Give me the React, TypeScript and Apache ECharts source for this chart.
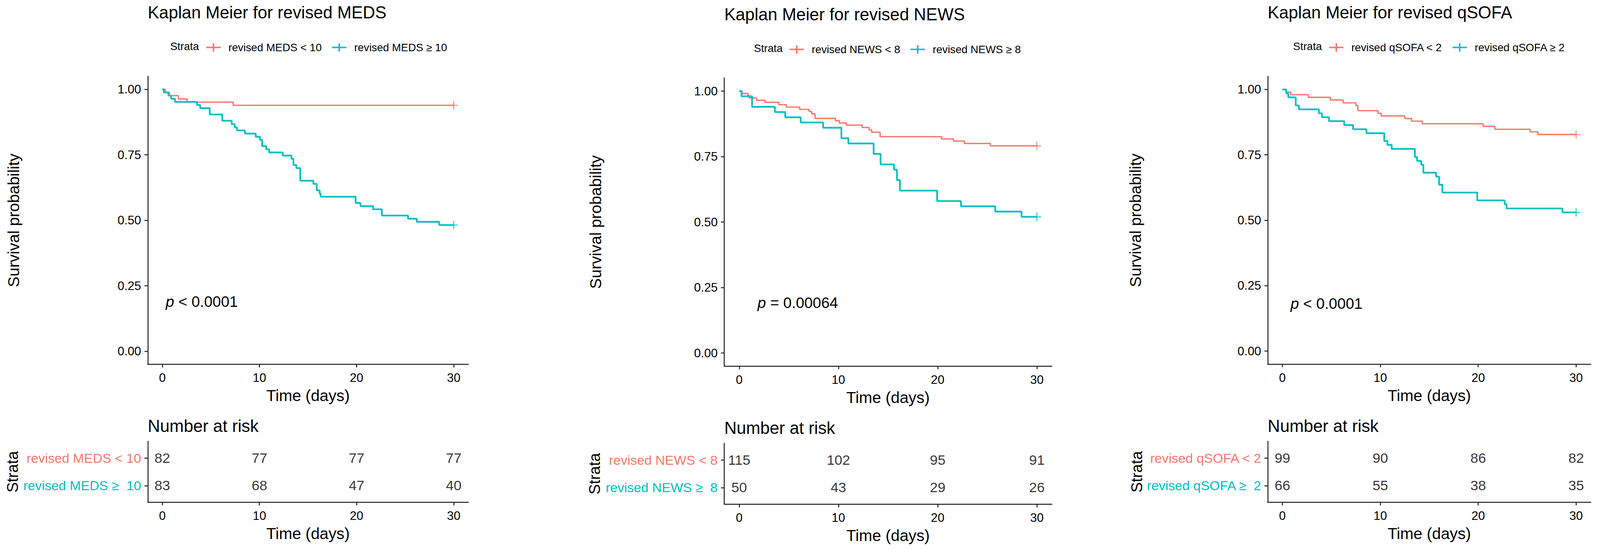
import React, { useEffect, useRef } from "react";
import * as echarts from "echarts";

const W = 4353;
const H = 1407;
const RED = "#F8766D";
const TEAL = "#00BFC4";
const INK = "#000000";
const AXIS = "#1a1a1a";
const FONT = "'Liberation Sans', Arial, Helvetica, sans-serif";

// ---------- data ----------
const TIME_TICKS = [0, 10, 20, 30];
const PROB_TICKS = [0, 0.25, 0.5, 0.75, 1];

const TITLES = ["Kaplan Meier for revised MEDS", "Kaplan Meier for revised NEWS", "Kaplan Meier for revised qSOFA"];
const LOW_NAMES = ["revised MEDS < 10", "revised NEWS < 8", "revised qSOFA < 2"];
const HIGH_NAMES = ["revised MEDS \u2265 10", "revised NEWS \u2265 8", "revised qSOFA \u2265 2"];
const LOW_ROW_LABELS = ["revised MEDS < 10", "revised NEWS < 8", "revised qSOFA < 2"];
const HIGH_ROW_LABELS = ["revised MEDS \u2265\u00a0 10", "revised NEWS \u2265\u00a0 8", "revised qSOFA \u2265\u00a0 2"];
const P_OPS = ["<", "=", "<"];
const P_VALUES = ["0.0001", "0.00064", "0.0001"];

const MEDS_LOW_T = [0, 0.3, 0.6, 1.65, 2.55, 7.3, 30];
const MEDS_LOW_S = [1, 0.988, 0.976, 0.963, 0.951, 0.939, 0.939];
const MEDS_HIGH_T = [0, 0.15, 0.7, 0.9, 1.3, 3.58, 3.9, 4.88, 6.17, 7.14, 7.46, 7.68, 8.5, 9.62, 10.05, 10.27, 10.7, 11.0, 12.4, 13.3, 13.5, 13.8, 14.2, 15.55, 15.9, 16.2, 16.3, 19.9, 20.4, 21.7, 22.6, 25.3, 26.2, 28.5, 30];
const MEDS_HIGH_S = [1, 0.988, 0.976, 0.964, 0.952, 0.94, 0.928, 0.904, 0.88, 0.867, 0.855, 0.843, 0.831, 0.819, 0.807, 0.783, 0.771, 0.759, 0.747, 0.735, 0.711, 0.699, 0.651, 0.639, 0.614, 0.602, 0.59, 0.566, 0.554, 0.542, 0.518, 0.506, 0.494, 0.482, 0.482];

const NEWS_LOW_T = [0, 0.3, 0.9, 1.0, 1.75, 2.6, 4.0, 4.75, 6.1, 7.05, 7.3, 7.65, 9.7, 10.1, 10.8, 12.4, 13.1, 13.35, 14.2, 20.4, 21.6, 22.7, 25.3, 30];
const NEWS_LOW_S = [1, 0.991, 0.983, 0.974, 0.965, 0.957, 0.948, 0.939, 0.93, 0.922, 0.913, 0.896, 0.887, 0.878, 0.87, 0.861, 0.852, 0.843, 0.826, 0.817, 0.809, 0.8, 0.791, 0.791];
const NEWS_HIGH_T = [0, 0.24, 1.3, 3.6, 4.64, 6.2, 8.46, 10.3, 11.0, 13.55, 14.25, 15.6, 15.9, 16.2, 19.95, 22.35, 25.8, 28.45, 30];
const NEWS_HIGH_S = [1, 0.98, 0.94, 0.92, 0.9, 0.88, 0.86, 0.82, 0.8, 0.76, 0.72, 0.7, 0.66, 0.62, 0.58, 0.56, 0.54, 0.52, 0.52];

const QSOFA_LOW_T = [0, 0.4, 0.85, 2.65, 4.9, 6.2, 7.5, 7.7, 9.76, 10.1, 12.5, 13.2, 14.3, 20.5, 21.7, 25.3, 26.1, 30];
const QSOFA_LOW_S = [1, 0.99, 0.98, 0.97, 0.96, 0.949, 0.939, 0.919, 0.909, 0.899, 0.889, 0.879, 0.869, 0.859, 0.848, 0.838, 0.828, 0.828];
const QSOFA_HIGH_T = [0, 0.39, 0.6, 1.36, 1.68, 3.73, 4.05, 4.76, 6.31, 7.22, 8.58, 10.4, 10.73, 11.16, 13.53, 13.75, 14.18, 14.4, 15.69, 16.0, 16.34, 19.9, 22.7, 22.9, 28.6, 30];
const QSOFA_HIGH_S = [1, 0.985, 0.97, 0.939, 0.924, 0.909, 0.894, 0.879, 0.864, 0.848, 0.833, 0.803, 0.788, 0.773, 0.742, 0.727, 0.712, 0.682, 0.667, 0.636, 0.606, 0.576, 0.561, 0.545, 0.53, 0.53];

const MEDS_RISK_LOW = [82, 77, 77, 77];
const MEDS_RISK_HIGH = [83, 68, 47, 40];
const NEWS_RISK_LOW = [115, 102, 95, 91];
const NEWS_RISK_HIGH = [50, 43, 29, 26];
const QSOFA_RISK_LOW = [99, 90, 86, 82];
const QSOFA_RISK_HIGH = [66, 55, 38, 35];

const CURVES = [
  { lowT: MEDS_LOW_T, lowS: MEDS_LOW_S, highT: MEDS_HIGH_T, highS: MEDS_HIGH_S, riskLow: MEDS_RISK_LOW, riskHigh: MEDS_RISK_HIGH },
  { lowT: NEWS_LOW_T, lowS: NEWS_LOW_S, highT: NEWS_HIGH_T, highS: NEWS_HIGH_S, riskLow: NEWS_RISK_LOW, riskHigh: NEWS_RISK_HIGH },
  { lowT: QSOFA_LOW_T, lowS: QSOFA_LOW_S, highT: QSOFA_HIGH_T, highS: QSOFA_HIGH_S, riskLow: QSOFA_RISK_LOW, riskHigh: QSOFA_RISK_HIGH },
];

// ---------- layout (reference pixels, 4353 x 1407) ----------
const LAYOUT = [
  { left: 402, width: 872, top: 195, height: 737, riskTop: 1129, riskHeight: 156, titleY: 31, legendLeft: 561, legendTop: 107, strataX: 463, pX: 451, pY: 771, riskTitleY: 1089, yNameGap: 344, strataGap: 347 },
  { left: 1970.5, width: 891, top: 199.5, height: 737, riskTop: 1134, riskHeight: 156, titleY: 36.5, legendLeft: 2148, legendTop: 112, strataX: 2051, pX: 2061, pY: 774, riskTitleY: 1094, yNameGap: 329, strataGap: 332 },
  { left: 3449, width: 879, top: 195.5, height: 736, riskTop: 1129, riskHeight: 156, titleY: 31.5, legendLeft: 3616, legendTop: 107, strataX: 3518, pX: 3511, pY: 776, riskTitleY: 1089, yNameGap: 338, strataGap: 336 },
];

function pairs(T: number[], S: number[]) {
  return T.map((t, i) => [t, S[i]]);
}

function buildOption(sx: number, sy: number) {
  const X = (v: number) => v * sx;
  const Y = (v: number) => v * sy;
  const fs = Math.sqrt(sx * sy);
  const F = (v: number) => v * fs;

  const TICK_FONT = F(32);
  const AXIS_TITLE_FONT = F(42);
  const LW = Math.max(1, 2.5 * fs);

  const legendIcon = "path://M0,9L38,9L38,13L0,13Z M17,0L21,0L21,22L17,22Z";
  const censorIcon = "path://M0,9.8L22,9.8L22,12.6L0,12.6Z M9.6,0L12.4,0L12.4,22L9.6,22Z";

  const timeAxis = (gridIndex: number) => ({
    type: "value",
    gridIndex,
    min: -1.5,
    max: 31.5,
    name: "Time (days)",
    nameLocation: "middle",
    nameGap: Y(80) - AXIS_TITLE_FONT / 2,
    nameTextStyle: { fontSize: AXIS_TITLE_FONT, color: INK, fontFamily: FONT },
    axisLine: { show: true, onZero: false, lineStyle: { color: AXIS, width: LW } },
    axisTick: { show: true, length: Y(8), customValues: TIME_TICKS, lineStyle: { color: AXIS, width: LW } },
    axisLabel: { show: true, customValues: TIME_TICKS, margin: Y(35) - TICK_FONT / 2, fontSize: TICK_FONT, color: INK, fontFamily: FONT, formatter: (v: number) => String(v) },
    splitLine: { show: false },
  });

  const grid: any[] = [];
  const xAxis: any[] = [];
  const yAxis: any[] = [];
  const series: any[] = [];
  const legend: any[] = [];
  const title: any[] = [];
  const graphic: any[] = [];

  LAYOUT.forEach((L, i) => {
    const C = CURVES[i];
    const gMain = 2 * i;
    const gRisk = 2 * i + 1;
    grid.push({ left: X(L.left), top: Y(L.top), width: X(L.width), height: Y(L.height), containLabel: false, outerBoundsMode: "none" });
    grid.push({ left: X(L.left), top: Y(L.riskTop), width: X(L.width), height: Y(L.riskHeight), containLabel: false, outerBoundsMode: "none" });

    xAxis.push(timeAxis(gMain));
    xAxis.push(timeAxis(gRisk));

    yAxis.push({
      type: "value",
      gridIndex: gMain,
      min: -0.05,
      max: 1.05,
      name: "Survival probability",
      nameLocation: "middle",
      nameRotate: 90,
      nameGap: X(L.yNameGap + 21) - AXIS_TITLE_FONT / 2,
      nameTextStyle: { fontSize: AXIS_TITLE_FONT, color: INK, fontFamily: FONT },
      axisLine: { show: true, onZero: false, lineStyle: { color: AXIS, width: LW } },
      axisTick: { show: true, length: X(9), customValues: PROB_TICKS, lineStyle: { color: AXIS, width: LW } },
      axisLabel: { show: true, customValues: PROB_TICKS, margin: X(18), fontSize: TICK_FONT, color: INK, fontFamily: FONT, formatter: (v: number) => v.toFixed(2) },
      splitLine: { show: false },
    });
    yAxis.push({
      type: "value",
      gridIndex: gRisk,
      min: 0.4,
      max: 2.6,
      name: "Strata",
      nameLocation: "middle",
      nameRotate: 90,
      nameGap: X(L.strataGap + 20.5) - F(41) / 2,
      nameTextStyle: { fontSize: F(41), color: INK, fontFamily: FONT },
      axisLine: { show: true, onZero: false, lineStyle: { color: AXIS, width: LW } },
      axisTick: { show: true, length: X(9), customValues: [1, 2], lineStyle: { color: AXIS, width: LW } },
      axisLabel: {
        show: true,
        customValues: [1, 2],
        margin: X(18),
        fontFamily: FONT,
        fontSize: F(35),
        formatter: (v: number) => (Math.round(v) === 2 ? `{r|${LOW_ROW_LABELS[i]}}` : `{t|${HIGH_ROW_LABELS[i]}}`),
        rich: {
          r: { color: RED, fontSize: F(35), fontFamily: FONT },
          t: { color: TEAL, fontSize: F(35), fontFamily: FONT },
        },
      },
      splitLine: { show: false },
    });

    series.push({
      type: "line",
      name: LOW_NAMES[i],
      xAxisIndex: gMain,
      yAxisIndex: gMain,
      data: pairs(C.lowT, C.lowS),
      step: "end",
      symbol: "none",
      showSymbol: false,
      lineStyle: { color: RED, width: 3.5 * fs },
      itemStyle: { color: RED },
      z: 3,
      silent: true,
    });
    series.push({
      type: "line",
      name: HIGH_NAMES[i],
      xAxisIndex: gMain,
      yAxisIndex: gMain,
      data: pairs(C.highT, C.highS),
      step: "end",
      symbol: "none",
      showSymbol: false,
      lineStyle: { color: TEAL, width: 4.5 * fs },
      itemStyle: { color: TEAL },
      z: 4,
      silent: true,
    });
    series.push({
      type: "scatter",
      name: "censor-low-" + i,
      xAxisIndex: gMain,
      yAxisIndex: gMain,
      data: [[C.lowT[C.lowT.length - 1], C.lowS[C.lowS.length - 1]]],
      symbol: censorIcon,
      symbolSize: F(22),
      itemStyle: { color: RED },
      z: 5,
      silent: true,
    });
    series.push({
      type: "scatter",
      name: "censor-high-" + i,
      xAxisIndex: gMain,
      yAxisIndex: gMain,
      data: [[C.highT[C.highT.length - 1], C.highS[C.highS.length - 1]]],
      symbol: censorIcon,
      symbolSize: F(22),
      itemStyle: { color: TEAL },
      z: 5,
      silent: true,
    });

    const riskLabel = {
      show: true,
      position: "inside",
      fontSize: F(37),
      color: INK,
      fontFamily: FONT,
      formatter: (q: any) => String(q.value[2]),
    };
    series.push({
      type: "scatter",
      name: "risk-low-" + i,
      xAxisIndex: gRisk,
      yAxisIndex: gRisk,
      data: TIME_TICKS.map((t, k) => [t, 2, C.riskLow[k]]),
      symbolSize: 1,
      itemStyle: { color: "rgba(0,0,0,0)" },
      label: riskLabel,
      silent: true,
    });
    series.push({
      type: "scatter",
      name: "risk-high-" + i,
      xAxisIndex: gRisk,
      yAxisIndex: gRisk,
      data: TIME_TICKS.map((t, k) => [t, 1, C.riskHigh[k]]),
      symbolSize: 1,
      itemStyle: { color: "rgba(0,0,0,0)" },
      label: riskLabel,
      silent: true,
    });

    legend.push({
      data: [LOW_NAMES[i], HIGH_NAMES[i]],
      left: X(L.legendLeft),
      top: Y(L.legendTop + 11) - F(11),
      orient: "horizontal",
      padding: 0,
      itemWidth: F(38),
      itemHeight: F(22),
      itemGap: X(28),
      icon: legendIcon,
      selectedMode: false,
      textStyle: { fontSize: F(28.5), color: INK, fontFamily: FONT, padding: [0, 0, 0, X(16)] },
    });

    title.push({
      text: TITLES[i],
      left: X(L.left),
      top: Y(L.titleY) - F(22.5),
      padding: 0,
      textStyle: { fontSize: F(45), fontWeight: "normal", color: INK, fontFamily: FONT, lineHeight: F(45) },
    });

    const txt = (text: string, x: number, y: number, size: number, extra: any = {}) => ({
      type: "text",
      x,
      y,
      silent: true,
      style: { text, fontSize: size, fontFamily: FONT, fill: INK, align: "left", verticalAlign: "middle", textAlign: "left", textVerticalAlign: "middle", ...extra },
    });
    graphic.push(txt("Strata", X(L.strataX), Y(L.legendTop + 11), F(28.5)));
    graphic.push(txt("Number at risk", X(L.left), Y(L.riskTitleY), F(45)));
    graphic.push(
      txt(`{i|p} ${P_OPS[i]} ${P_VALUES[i]}`, X(L.pX), Y(L.pY), F(40), {
        rich: { i: { fontStyle: "italic", fontSize: F(40), fontFamily: FONT, fill: INK, color: INK } },
      })
    );
  });

  return {
    animation: false,
    backgroundColor: "#ffffff",
    textStyle: { fontFamily: FONT },
    title,
    legend,
    grid,
    xAxis,
    yAxis,
    series,
    graphic,
  };
}

export default function App() {
  const ref = useRef<HTMLDivElement>(null);
  useEffect(() => {
    document.body.style.margin = "0";
    document.body.style.overflow = "hidden";
    document.documentElement.style.overflow = "hidden";
    const el = ref.current;
    if (!el) return;
    const vw = window.innerWidth > 100 ? window.innerWidth : W;
    const vh = window.innerHeight > 100 ? window.innerHeight : H;
    el.style.width = vw + "px";
    el.style.height = vh + "px";
    const chart = echarts.init(el, undefined, { renderer: "svg", width: vw, height: vh });
    chart.setOption(buildOption(vw / W, vh / H) as any);
    return () => {
      chart.dispose();
    };
  }, []);
  return <div ref={ref} style={{ width: W, height: H, background: "#fff" }} />;
}
